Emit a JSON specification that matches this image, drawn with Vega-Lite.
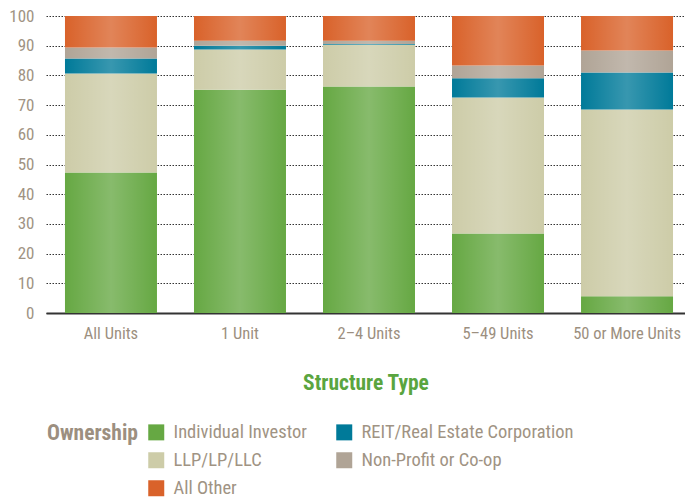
{
  "$schema": "https://vega.github.io/schema/vega-lite/v6.json",
  "autosize": "none",
  "width": 639,
  "height": 297,
  "padding": {"left": 46, "top": 16, "right": 0, "bottom": 184},
  "background": "white",
  "config": {"font": "Roboto Condensed, DejaVu Sans Condensed, Liberation Sans Narrow, Roboto, sans-serif", "view": {"stroke": null}},
  "data": {"values": [
    {"structure": "All Units", "ownership": "Individual Investor", "rank": 1, "share": 47.3},
    {"structure": "All Units", "ownership": "LLP/LP/LLC", "rank": 2, "share": 33.3},
    {"structure": "All Units", "ownership": "REIT/Real Estate Corporation", "rank": 3, "share": 5.1},
    {"structure": "All Units", "ownership": "Non-Profit or Co-op", "rank": 4, "share": 3.7},
    {"structure": "All Units", "ownership": "All Other", "rank": 5, "share": 10.6},
    {"structure": "1 Unit", "ownership": "Individual Investor", "rank": 1, "share": 75.2},
    {"structure": "1 Unit", "ownership": "LLP/LP/LLC", "rank": 2, "share": 13.5},
    {"structure": "1 Unit", "ownership": "REIT/Real Estate Corporation", "rank": 3, "share": 1.3},
    {"structure": "1 Unit", "ownership": "Non-Profit or Co-op", "rank": 4, "share": 1.7},
    {"structure": "1 Unit", "ownership": "All Other", "rank": 5, "share": 8.3},
    {"structure": "2–4 Units", "ownership": "Individual Investor", "rank": 1, "share": 76.3},
    {"structure": "2–4 Units", "ownership": "LLP/LP/LLC", "rank": 2, "share": 14.0},
    {"structure": "2–4 Units", "ownership": "REIT/Real Estate Corporation", "rank": 3, "share": 0.3},
    {"structure": "2–4 Units", "ownership": "Non-Profit or Co-op", "rank": 4, "share": 1.1},
    {"structure": "2–4 Units", "ownership": "All Other", "rank": 5, "share": 8.3},
    {"structure": "5–49 Units", "ownership": "Individual Investor", "rank": 1, "share": 26.8},
    {"structure": "5–49 Units", "ownership": "LLP/LP/LLC", "rank": 2, "share": 45.8},
    {"structure": "5–49 Units", "ownership": "REIT/Real Estate Corporation", "rank": 3, "share": 6.4},
    {"structure": "5–49 Units", "ownership": "Non-Profit or Co-op", "rank": 4, "share": 4.3},
    {"structure": "5–49 Units", "ownership": "All Other", "rank": 5, "share": 16.7},
    {"structure": "50 or More Units", "ownership": "Individual Investor", "rank": 1, "share": 5.6},
    {"structure": "50 or More Units", "ownership": "LLP/LP/LLC", "rank": 2, "share": 62.9},
    {"structure": "50 or More Units", "ownership": "REIT/Real Estate Corporation", "rank": 3, "share": 12.5},
    {"structure": "50 or More Units", "ownership": "Non-Profit or Co-op", "rank": 4, "share": 7.4},
    {"structure": "50 or More Units", "ownership": "All Other", "rank": 5, "share": 11.6}
  ]},
  "layer": [
    {
      "mark": {"type": "bar"},
      "encoding": {
        "x": {
          "field": "structure", "type": "nominal",
          "sort": ["All Units", "1 Unit", "2–4 Units", "5–49 Units", "50 or More Units"],
          "scale": {"paddingInner": 0.287, "paddingOuter": 0.12, "align": 0.613},
          "axis": {
            "domainColor": "#333333", "domainWidth": 2, "ticks": false, "labelAngle": 0,
            "labelFontSize": 16.5, "labelColor": "#9c8f80", "labelPadding": 12,
            "title": "Structure Type", "titleColor": "#5aa53f", "titleFontSize": 21.5,
            "titleFontWeight": "bold", "titlePadding": 31, "grid": false
          }
        },
        "y": {
          "field": "share", "type": "quantitative", "stack": "zero",
          "scale": {"domain": [0, 100]},
          "axis": {
            "values": [0, 10, 20, 30, 40, 50, 60, 70, 80, 90, 100],
            "domain": false, "ticks": false, "gridDash": [1.5, 1.5], "gridColor": "#333333",
            "gridWidth": 1, "labelFontSize": 17, "labelColor": "#a09383", "labelPadding": 12,
            "title": null
          }
        },
        "order": {"field": "rank", "type": "quantitative", "sort": "ascending"},
        "color": {
          "field": "ownership", "type": "nominal",
          "scale": {
            "domain": ["Individual Investor", "LLP/LP/LLC", "REIT/Real Estate Corporation", "Non-Profit or Co-op", "All Other"],
            "range": ["#66a843", "#cdcca8", "#007a99", "#b0a496", "#d9622a"]
          },
          "legend": {
            "orient": "none", "legendX": 1, "legendY": 407, "direction": "horizontal", "columns": 2,
            "values": ["Individual Investor", "REIT/Real Estate Corporation", "LLP/LP/LLC", "Non-Profit or Co-op", "All Other"],
            "title": "Ownership", "titleOrient": "left", "titleAnchor": "start", "titleFontSize": 21.5, "titleFontWeight": "bold",
            "titleColor": "#9c8f80", "titlePadding": 9, "labelFontSize": 18.5, "labelColor": "#a09383", "labelLimit": 400,
            "symbolType": "square", "symbolSize": 256, "symbolStrokeWidth": 0, "symbolOpacity": 1,
            "rowPadding": 9, "columnPadding": 28, "labelOffset": 8
          }
        }
      }
    },
    {
      "mark": {
        "type": "bar",
        "fill": {
          "gradient": "linear", "x1": 0, "x2": 1, "y1": 0, "y2": 0,
          "stops": [
            {"offset": 0, "color": "rgba(255,255,255,0)"},
            {"offset": 0.5, "color": "rgba(255,255,255,0.22)"},
            {"offset": 1, "color": "rgba(255,255,255,0)"}
          ]
        }
      },
      "encoding": {
        "x": {
          "field": "structure", "type": "nominal",
          "sort": ["All Units", "1 Unit", "2–4 Units", "5–49 Units", "50 or More Units"]
        },
        "y": {
          "field": "share", "type": "quantitative", "aggregate": "sum",
          "axis": {
            "values": [0, 10, 20, 30, 40, 50, 60, 70, 80, 90, 100],
            "domain": false, "ticks": false, "gridDash": [1.5, 1.5], "gridColor": "#333333",
            "gridWidth": 1, "labelFontSize": 17, "labelColor": "#a09383", "labelPadding": 12,
            "title": null
          }
        }
      }
    }
  ]
}
